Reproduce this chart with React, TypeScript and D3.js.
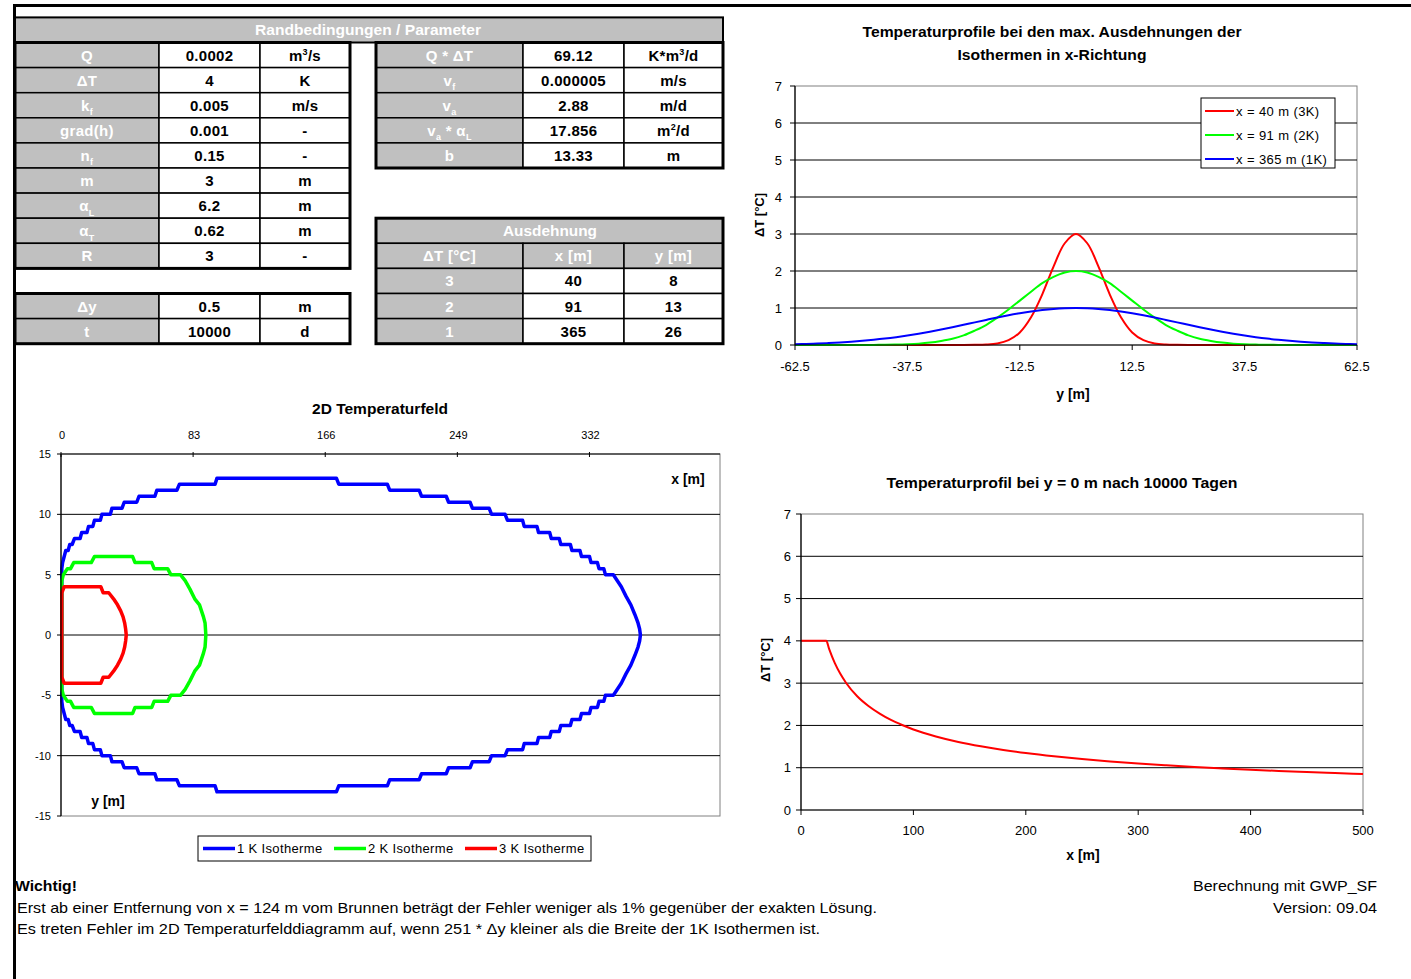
import React from 'react';
import * as d3 from 'd3';

const FONT = "'Liberation Sans', Arial, Helvetica, sans-serif";

// ---------- Table data ----------
const leftLabels = ['Q', 'ΔT', 'k_f', 'grad(h)', 'n_f', 'm', 'α_L', 'α_T', 'R'];
const leftValues = ['0.0002', '4', '0.005', '0.001', '0.15', '3', '6.2', '0.62', '3'];
const leftUnits = ['m^3/s', 'K', 'm/s', '-', '-', 'm', 'm', 'm', '-'];
const extraLabels = ['Δy', 't'];
const extraValues = ['0.5', '10000'];
const extraUnits = ['m', 'd'];
const rightLabels = ['Q * ΔT', 'v_f', 'v_a', 'v_a * α_L', 'b'];
const rightValues = ['69.12', '0.000005', '2.88', '17.856', '13.33'];
const rightUnits = ['K*m^3/d', 'm/s', 'm/d', 'm^2/d', 'm'];
const expHeaders = ['ΔT [°C]', 'x [m]', 'y [m]'];
const expDT = ['3', '2', '1'];
const expX = ['40', '91', '365'];
const expY = ['8', '13', '26'];

// ---------- Profile chart (top right) ----------
const profY = [-62.5, -60, -57.5, -55, -52.5, -50, -47.5, -45, -42.5, -40, -37.5, -35, -32.5, -30, -27.5, -25, -22.5, -20, -17.5, -15, -12.5, -10, -7.5, -5, -2.5, 0, 2.5, 5, 7.5, 10, 12.5, 15, 17.5, 20, 22.5, 25, 27.5, 30, 32.5, 35, 37.5, 40, 42.5, 45, 47.5, 50, 52.5, 55, 57.5, 60, 62.5];
const profRed = [0, 0, 0, 0, 0, 0, 0, 0, 0, 0, 0, 0, 0, 0.001, 0.002, 0.003, 0.005, 0.012, 0.04, 0.13, 0.34, 0.75, 1.37, 2.12, 2.75, 3.0, 2.75, 2.12, 1.37, 0.75, 0.34, 0.13, 0.04, 0.012, 0.005, 0.003, 0.002, 0.001, 0, 0, 0, 0, 0, 0, 0, 0, 0, 0, 0, 0, 0];
const profGreen = [0, 0, 0, 0, 0, 0.001, 0.002, 0.003, 0.006, 0.011, 0.021, 0.037, 0.065, 0.11, 0.17, 0.26, 0.39, 0.54, 0.74, 0.96, 1.2, 1.44, 1.67, 1.84, 1.96, 2.0, 1.96, 1.84, 1.67, 1.44, 1.2, 0.96, 0.74, 0.54, 0.39, 0.26, 0.17, 0.11, 0.065, 0.037, 0.021, 0.011, 0.006, 0.003, 0.002, 0.001, 0, 0, 0, 0, 0];
const profBlue = [0.023, 0.03, 0.04, 0.053, 0.069, 0.088, 0.112, 0.14, 0.173, 0.212, 0.256, 0.305, 0.359, 0.418, 0.48, 0.545, 0.612, 0.678, 0.743, 0.804, 0.859, 0.908, 0.947, 0.976, 0.994, 1.0, 0.994, 0.976, 0.947, 0.908, 0.859, 0.804, 0.743, 0.678, 0.612, 0.545, 0.48, 0.418, 0.359, 0.305, 0.256, 0.212, 0.173, 0.14, 0.112, 0.088, 0.069, 0.053, 0.04, 0.03, 0.023];
const profNames = ['x = 40 m (3K)', 'x = 91 m (2K)', 'x = 365 m (1K)'];
const profXTicks = [-62.5, -37.5, -12.5, 12.5, 37.5, 62.5];
const profYTicks = [0, 1, 2, 3, 4, 5, 6, 7];

// ---------- Axis profile (bottom right) ----------
const axisX = [0, 10, 20, 22.5, 25, 30, 35, 40, 50, 60, 70, 80, 90, 100, 120, 140, 160, 180, 200, 225, 250, 275, 300, 325, 350, 375, 400, 425, 450, 475, 500];
const axisT = [4, 4, 4, 4, 3.81, 3.48, 3.22, 3.01, 2.69, 2.46, 2.28, 2.13, 2.01, 1.905, 1.74, 1.61, 1.506, 1.42, 1.347, 1.27, 1.205, 1.149, 1.1, 1.057, 1.018, 0.984, 0.953, 0.924, 0.898, 0.874, 0.852];
const axisXTicks = [0, 100, 200, 300, 400, 500];
const axisYTicks = [0, 1, 2, 3, 4, 5, 6, 7];

// ---------- 2D isotherms (upper half, mirrored) ----------
const iso1K: [number, number][] = [[0.5, 0], [0.5, 5.5], [1, 6], [2, 6.5], [3, 7], [4.5, 7], [5.5, 7.5], [7, 7.5], [8.5, 8], [12, 8], [13, 8.5], [16.3, 8.5], [17.3, 9], [20, 9], [21, 9.5], [24.7, 9.5], [25.7, 10], [31, 10], [32, 10.5], [38.3, 10.5], [39.7, 11], [47.6, 11], [49, 11.5], [59, 11.5], [60.2, 12], [72.8, 12], [74.4, 12.5], [96.8, 12.5], [98, 13], [173, 13], [174.5, 12.5], [205, 12.5], [206.5, 12], [225, 12], [226.5, 11.5], [242, 11.5], [243.5, 11], [257, 11], [258.5, 10.5], [269, 10.5], [270.5, 10], [279, 10], [280.5, 9.5], [290, 9.5], [291, 9], [299, 9], [300, 8.5], [307, 8.5], [308, 8], [313, 8], [314, 7.5], [320, 7.5], [321, 7], [326, 7], [327, 6.5], [332, 6.5], [333, 6], [337, 6], [338, 5.5], [341, 5.5], [342, 5], [347, 5], [349.5, 4.5], [352, 4], [355, 3.2], [358, 2.5], [360.5, 1.7], [362.5, 1], [363.5, 0.5], [364, 0]];
const iso2K: [number, number][] = [[0.5, 0], [0.5, 4.5], [1.5, 5], [4, 5.5], [6, 5.5], [8, 6], [19, 6], [21, 6.5], [45, 6.5], [46.5, 6], [57, 6], [58.5, 5.5], [67, 5.5], [69, 5], [75, 5], [78, 4.5], [81, 3.8], [84, 3], [87, 2.5], [89.5, 1.5], [90.5, 1], [91, 0]];
const iso3K: [number, number][] = [[0.5, 0], [0.5, 3.5], [2, 4], [25, 4], [26.5, 3.5], [30, 3.5], [33, 3], [35.5, 2.5], [37.5, 2], [39, 1.5], [40, 1], [40.6, 0.5], [41, 0]];
const isoNames = ['1 K Isotherme', '2 K Isotherme', '3 K Isotherme'];
const fieldXTicks = [0, 83, 166, 249, 332];
const fieldYTicks = [15, 10, 5, 0, -5, -10, -15];

const BLUE = '#0000ff';
const GREEN = '#00ff00';
const RED = '#ff0000';
const GRAY = '#c0c0c0';

// rich text with _x subscript and ^x superscript
function Rich({ s, x, y, size, fill, anchor = 'middle', weight = 'bold', ls = 0 }: any) {
  const parts: { t: string; k?: string }[] = [];
  let buf = '';
  for (let i = 0; i < s.length; i++) {
    const c = s[i];
    if ((c === '_' || c === '^') && i + 1 < s.length) {
      if (buf) parts.push({ t: buf });
      buf = '';
      parts.push({ t: s[i + 1], k: c });
      i++;
    } else buf += c;
  }
  if (buf) parts.push({ t: buf });
  let off = 0;
  return (
    <text x={x} y={y} textAnchor={anchor} fontSize={size} fill={fill} fontWeight={weight} fontFamily={FONT} letterSpacing={ls}>
      {parts.map((p, j) => {
        let target = 0;
        let fs = size;
        if (p.k === '_') { target = size * 0.3; fs = size * 0.6; }
        if (p.k === '^') { target = -size * 0.4; fs = size * 0.6; }
        const dy = target - off;
        off = target;
        return <tspan key={j} dy={dy} fontSize={fs}>{p.t}</tspan>;
      })}
    </text>
  );
}

const ROW0 = 42.5;
const RH = 25.1;
const rowTop = (i: number) => ROW0 + RH * i;
const LCOL = [15, 159, 260, 350];
const RCOL = [376, 523, 624, 723];

function Cell({ x0, x1, r, text, gray }: any) {
  const y0 = rowTop(r);
  const y1 = rowTop(r + 1);
  return (
    <g>
      <rect x={x0} y={y0} width={x1 - x0} height={y1 - y0} fill={gray ? GRAY : '#fff'} stroke="#000" strokeWidth={1.5} />
      <Rich s={text} x={(x0 + x1) / 2} y={(y0 + y1) / 2 + 5.5} size={15} ls={0.3} fill={gray ? '#fff' : '#000'} />
    </g>
  );
}

function Frame({ x0, x1, r0, r1 }: any) {
  return <rect x={x0} y={rowTop(r0)} width={x1 - x0} height={rowTop(r1) - rowTop(r0)} fill="none" stroke="#000" strokeWidth={3} />;
}

function Tables() {
  const cells: any[] = [];
  leftLabels.forEach((l, i) => {
    cells.push(<Cell key={'ll' + i} x0={LCOL[0]} x1={LCOL[1]} r={i} text={l} gray />);
    cells.push(<Cell key={'lv' + i} x0={LCOL[1]} x1={LCOL[2]} r={i} text={leftValues[i]} />);
    cells.push(<Cell key={'lu' + i} x0={LCOL[2]} x1={LCOL[3]} r={i} text={leftUnits[i]} />);
  });
  extraLabels.forEach((l, i) => {
    cells.push(<Cell key={'el' + i} x0={LCOL[0]} x1={LCOL[1]} r={10 + i} text={l} gray />);
    cells.push(<Cell key={'ev' + i} x0={LCOL[1]} x1={LCOL[2]} r={10 + i} text={extraValues[i]} />);
    cells.push(<Cell key={'eu' + i} x0={LCOL[2]} x1={LCOL[3]} r={10 + i} text={extraUnits[i]} />);
  });
  rightLabels.forEach((l, i) => {
    cells.push(<Cell key={'rl' + i} x0={RCOL[0]} x1={RCOL[1]} r={i} text={l} gray />);
    cells.push(<Cell key={'rv' + i} x0={RCOL[1]} x1={RCOL[2]} r={i} text={rightValues[i]} />);
    cells.push(<Cell key={'ru' + i} x0={RCOL[2]} x1={RCOL[3]} r={i} text={rightUnits[i]} />);
  });
  expHeaders.forEach((h, i) => {
    cells.push(<Cell key={'eh' + i} x0={RCOL[i]} x1={RCOL[i + 1]} r={8} text={h} gray />);
  });
  expDT.forEach((d, i) => {
    cells.push(<Cell key={'ed' + i} x0={RCOL[0]} x1={RCOL[1]} r={9 + i} text={d} gray />);
    cells.push(<Cell key={'ex' + i} x0={RCOL[1]} x1={RCOL[2]} r={9 + i} text={expX[i]} />);
    cells.push(<Cell key={'ey' + i} x0={RCOL[2]} x1={RCOL[3]} r={9 + i} text={expY[i]} />);
  });
  return (
    <g>
      <rect x={15} y={rowTop(-1)} width={723 - 15} height={RH} fill={GRAY} stroke="#000" strokeWidth={2} />
      <text x={368} y={rowTop(-1) + RH / 2 + 5.5} textAnchor="middle" fontSize={15} fontWeight="bold" fill="#fff" textLength={226} lengthAdjust="spacingAndGlyphs">Randbedingungen / Parameter</text>
      <rect x={RCOL[0]} y={rowTop(7)} width={RCOL[3] - RCOL[0]} height={RH} fill={GRAY} stroke="#000" strokeWidth={1.5} />
      <text x={550} y={rowTop(7) + RH / 2 + 5.5} textAnchor="middle" fontSize={15} fontWeight="bold" fill="#fff" textLength={94} lengthAdjust="spacingAndGlyphs">Ausdehnung</text>
      {cells}
      <Frame x0={LCOL[0]} x1={LCOL[3]} r0={0} r1={9} />
      <Frame x0={LCOL[0]} x1={LCOL[3]} r0={10} r1={12} />
      <Frame x0={RCOL[0]} x1={RCOL[3]} r0={0} r1={5} />
      <Frame x0={RCOL[0]} x1={RCOL[3]} r0={7} r1={12} />
    </g>
  );
}

function ProfileChart() {
  const x = d3.scaleLinear().domain([-62.5, 62.5]).range([795, 1357]);
  const y = d3.scaleLinear().domain([0, 7]).range([345, 86]);
  const line = d3.line<number>().x((_, i) => x(profY[i])).y((d) => y(d)).curve(d3.curveCatmullRom);
  const series = [profRed, profGreen, profBlue];
  const colors = [RED, GREEN, BLUE];
  return (
    <g fontFamily={FONT}>
      <text x={1052} y={37} textAnchor="middle" fontSize={14.5} fontWeight="bold" textLength={379} lengthAdjust="spacingAndGlyphs">Temperaturprofile bei den max. Ausdehnungen der</text>
      <text x={1052} y={60} textAnchor="middle" fontSize={14.5} fontWeight="bold" textLength={189} lengthAdjust="spacingAndGlyphs">Isothermen in x-Richtung</text>
      <rect x={x(-62.5)} y={y(7)} width={x(62.5) - x(-62.5)} height={y(0) - y(7)} fill="none" stroke="#808080" strokeWidth={1} />
      {profYTicks.slice(1, 7).map((t) => (
        <line key={t} x1={x(-62.5)} x2={x(62.5)} y1={y(t)} y2={y(t)} stroke="#000" strokeWidth={1} />
      ))}
      {series.map((s, i) => (
        <path key={i} d={line(s) || ''} fill="none" stroke={colors[i]} strokeWidth={2} />
      ))}
      <line x1={x(-62.5)} x2={x(-62.5)} y1={y(7)} y2={y(0)} stroke="#000" strokeWidth={1.2} />
      <line x1={x(-62.5)} x2={x(62.5)} y1={y(0)} y2={y(0)} stroke="#000" strokeWidth={1.2} />
      {profYTicks.map((t) => (
        <g key={t}>
          <line x1={x(-62.5) - 5} x2={x(-62.5)} y1={y(t)} y2={y(t)} stroke="#000" />
          <text x={x(-62.5) - 13} y={y(t) + 4.5} textAnchor="end" fontSize={13}>{t}</text>
        </g>
      ))}
      {profXTicks.map((t) => (
        <g key={t}>
          <line x1={x(t)} x2={x(t)} y1={y(0)} y2={y(0) + 5} stroke="#000" />
          <text x={x(t)} y={y(0) + 26} textAnchor="middle" fontSize={13}>{t}</text>
        </g>
      ))}
      <text x={1073} y={399} textAnchor="middle" fontSize={14} fontWeight="bold">y [m]</text>
      <text transform={`translate(764,215) rotate(-90)`} textAnchor="middle" fontSize={13} fontWeight="bold">ΔT [°C]</text>
      <g>
        <rect x={1201} y={98} width={134} height={70} fill="#fff" stroke="#000" strokeWidth={1} />
        {profNames.map((n, i) => (
          <g key={n}>
            <line x1={1205} x2={1234} y1={111 + i * 24} y2={111 + i * 24} stroke={colors[i]} strokeWidth={2} />
            <text x={1236} y={111 + i * 24 + 4.5} fontSize={13} letterSpacing={0.4}>{n}</text>
          </g>
        ))}
      </g>
    </g>
  );
}

function AxisChart() {
  const x = d3.scaleLinear().domain([0, 500]).range([801, 1363]);
  const y = d3.scaleLinear().domain([0, 7]).range([810, 514]);
  const line = d3.line<number>().x((_, i) => x(axisX[i])).y((d) => y(d)).curve(d3.curveMonotoneX);
  return (
    <g fontFamily={FONT}>
      <text x={1062} y={488} textAnchor="middle" fontSize={14.5} fontWeight="bold" textLength={351} lengthAdjust="spacingAndGlyphs">Temperaturprofil bei y = 0 m nach 10000 Tagen</text>
      <rect x={x(0)} y={y(7)} width={x(500) - x(0)} height={y(0) - y(7)} fill="none" stroke="#808080" strokeWidth={1} />
      {axisYTicks.slice(1, 7).map((t) => (
        <line key={t} x1={x(0)} x2={x(500)} y1={y(t)} y2={y(t)} stroke="#000" strokeWidth={1} />
      ))}
      <path d={line(axisT) || ''} fill="none" stroke={RED} strokeWidth={2} />
      <line x1={x(0)} x2={x(0)} y1={y(7)} y2={y(0)} stroke="#000" strokeWidth={1.2} />
      <line x1={x(0)} x2={x(500)} y1={y(0)} y2={y(0)} stroke="#000" strokeWidth={1.2} />
      {axisYTicks.map((t) => (
        <g key={t}>
          <line x1={x(0) - 5} x2={x(0)} y1={y(t)} y2={y(t)} stroke="#000" />
          <text x={x(0) - 10} y={y(t) + 4.5} textAnchor="end" fontSize={13}>{t}</text>
        </g>
      ))}
      {axisXTicks.map((t) => (
        <g key={t}>
          <line x1={x(t)} x2={x(t)} y1={y(0)} y2={y(0) + 5} stroke="#000" />
          <text x={x(t)} y={y(0) + 25} textAnchor="middle" fontSize={13}>{t}</text>
        </g>
      ))}
      <text x={1083} y={860} textAnchor="middle" fontSize={14} fontWeight="bold">x [m]</text>
      <text transform={`translate(770,660) rotate(-90)`} textAnchor="middle" fontSize={13} fontWeight="bold">ΔT [°C]</text>
    </g>
  );
}

function FieldChart() {
  const x = d3.scaleLinear().domain([0, 414]).range([61, 720]);
  const y = d3.scaleLinear().domain([-15, 15]).range([816, 454]);
  const closed = (pts: [number, number][]) => {
    const lower = pts.slice().reverse().map(([a, b]) => [a, -b] as [number, number]);
    return pts.concat(lower);
  };
  const line = d3.line<[number, number]>().x((d) => x(d[0])).y((d) => y(d[1]));
  const isos = [iso1K, iso2K, iso3K];
  const colors = [BLUE, GREEN, RED];
  return (
    <g fontFamily={FONT}>
      <text x={380} y={414} textAnchor="middle" fontSize={14} fontWeight="bold" textLength={136} lengthAdjust="spacingAndGlyphs">2D Temperaturfeld</text>
      <rect x={x(0)} y={y(15)} width={x(414) - x(0)} height={y(-15) - y(15)} fill="none" stroke="#808080" strokeWidth={1} />
      {[10, 5, 0, -5, -10].map((t) => (
        <line key={t} x1={x(0)} x2={x(414)} y1={y(t)} y2={y(t)} stroke="#000" strokeWidth={1} />
      ))}
      {isos.map((p, i) => (
        <path key={i} d={line(closed(p)) || ''} fill="none" stroke={colors[i]} strokeWidth={3.5} strokeLinejoin="round" />
      ))}
      <line x1={x(0)} x2={x(0)} y1={y(15)} y2={y(-15)} stroke="#000" strokeWidth={1.2} />
      <line x1={x(0)} x2={x(414)} y1={y(15)} y2={y(15)} stroke="#000" strokeWidth={1.2} />
      {fieldYTicks.map((t) => (
        <g key={t}>
          <line x1={x(0) - 4} x2={x(0)} y1={y(t)} y2={y(t)} stroke="#000" />
          <text x={x(0) - 10} y={y(t) + 4} textAnchor="end" fontSize={11}>{t}</text>
        </g>
      ))}
      {fieldXTicks.map((t) => (
        <g key={t}>
          <line x1={x(t)} x2={x(t)} y1={y(15) - 2} y2={y(15) + 3} stroke="#000" />
          <text x={x(t) + 1} y={y(15) - 15} textAnchor="middle" fontSize={11}>{t}</text>
        </g>
      ))}
      <text x={688} y={484} textAnchor="middle" fontSize={14} fontWeight="bold">x [m]</text>
      <text x={108} y={806} textAnchor="middle" fontSize={14} fontWeight="bold">y [m]</text>
      <g>
        <rect x={198} y={836} width={393} height={25} fill="#fff" stroke="#000" strokeWidth={1} />
        {isoNames.map((n, i) => (
          <g key={n}>
            <line x1={203 + i * 131} x2={235 + i * 131} y1={848.5} y2={848.5} stroke={colors[i]} strokeWidth={3.5} />
            <text x={237 + i * 131} y={853} fontSize={13} letterSpacing={0.35}>{n}</text>
          </g>
        ))}
      </g>
    </g>
  );
}

function Footer() {
  return (
    <g fontFamily={FONT}>
      <text x={15} y={891} fontSize={15} fontWeight="bold" textLength={62} lengthAdjust="spacingAndGlyphs">Wichtig!</text>
      <text x={17} y={913} fontSize={15} textLength={860} lengthAdjust="spacingAndGlyphs">Erst ab einer Entfernung von x = 124 m vom Brunnen beträgt der Fehler weniger als 1% gegenüber der exakten Lösung.</text>
      <text x={17} y={934} fontSize={15} textLength={803} lengthAdjust="spacingAndGlyphs">Es treten Fehler im 2D Temperaturfelddiagramm auf, wenn 251 * Δy kleiner als die Breite der 1K Isothermen ist.</text>
      <text x={1377} y={891} textAnchor="end" fontSize={15} textLength={184} lengthAdjust="spacingAndGlyphs">Berechnung mit GWP_SF</text>
      <text x={1377} y={913} textAnchor="end" fontSize={15} textLength={104} lengthAdjust="spacingAndGlyphs">Version: 09.04</text>
    </g>
  );
}

export default function App() {
  React.useEffect(() => {
    document.body.style.margin = '0';
  }, []);
  return (
    <svg width={1411} height={979} style={{ position: 'absolute', left: 0, top: 0, background: '#fff' }} fontFamily={FONT}>
      <rect x={0} y={0} width={1411} height={979} fill="#fff" />
      <rect x={13} y={4} width={1398} height={3} fill="#000" />
      <rect x={13} y={4} width={3} height={975} fill="#000" />
      <Tables />
      <ProfileChart />
      <FieldChart />
      <AxisChart />
      <Footer />
    </svg>
  );
}
